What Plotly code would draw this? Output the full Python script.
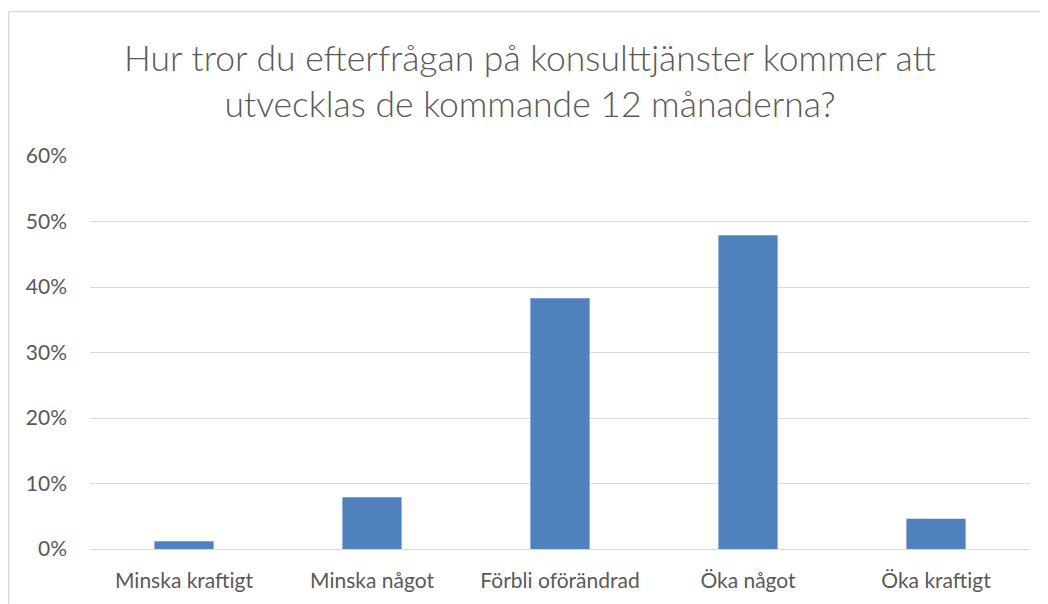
import plotly.graph_objects as go

categories = ["Minska kraftigt", "Minska något", "Förbli oförändrad", "Öka något", "Öka kraftigt"]
values = [0.012, 0.079, 0.383, 0.479, 0.046]
tick_vals = [0, 0.1, 0.2, 0.3, 0.4, 0.5, 0.6]
tick_text = ["0%", "10%", "20%", "30%", "40%", "50%", "60%"]
title_text = "Hur tror du efterfrågan på konsulttjänster kommer att<br>utvecklas de kommande 12 månaderna?"

W, H = 1040, 596
L, R, T, B = 82, 18, 148, 54.7
pw, ph = W - L - R, H - T - B

fig = go.Figure(go.Bar(
    x=categories, y=values,
    marker=dict(color="#4f81bd", line=dict(width=0)),
    width=0.315,
))

x_left = (0.75 - L) / pw
x_right = (W - L) / pw
y_top = (T + ph - 3.5) / ph
y_bot = -(H - (T + ph)) / ph
border = dict(color="#d9d9d9", width=1.5)

fig.update_layout(
    width=W, height=H,
    margin=dict(l=L, r=R, t=T, b=B),
    paper_bgcolor="white", plot_bgcolor="white",
    showlegend=False,
    font=dict(family="Lato, 'Open Sans', sans-serif", color="#595959"),
    title=dict(text=title_text, x=522 / W, xanchor="center", xref="container",
               y=1 - 63 / H, yanchor="top", yref="container",
               font=dict(size=35.5, color="#595959", family="Lato, sans-serif", weight=300)),
    xaxis=dict(showgrid=False, showline=False, zeroline=False, ticks="",
               tickfont=dict(size=21, color="#595959"), ticklabelstandoff=17),
    yaxis=dict(range=[0, 0.6], tickvals=tick_vals, ticktext=tick_text,
               showgrid=True, gridcolor="#d9d9d9", gridwidth=1,
               zeroline=True, zerolinecolor="#d9d9d9", zerolinewidth=1,
               showline=False, ticks="", ticklabelstandoff=22,
               tickfont=dict(size=21, color="#595959")),
    shapes=[
        dict(type="line", xref="paper", yref="paper", x0=x_left, x1=x_right,
             y0=y_top, y1=y_top, line=border, layer="below"),
        dict(type="line", xref="paper", yref="paper", x0=x_left, x1=x_left,
             y0=y_top, y1=y_bot, line=border, layer="below"),
    ],
)

fig.write_html("out.html")
